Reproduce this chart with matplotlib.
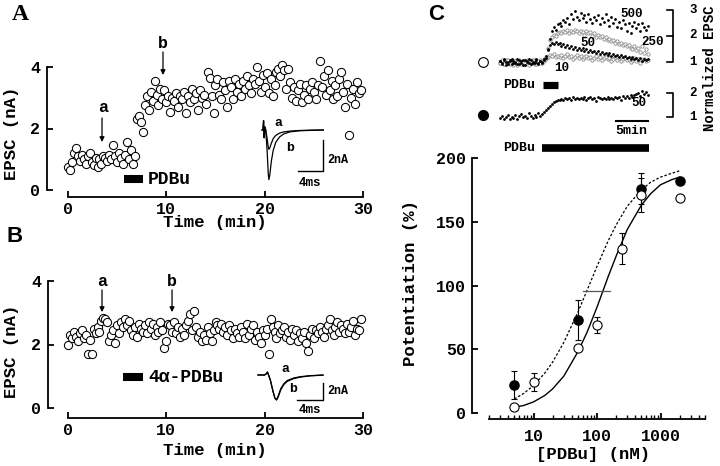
import numpy as np
import matplotlib.pyplot as plt
from matplotlib.lines import Line2D
from matplotlib.transforms import Affine2D
from matplotlib.ticker import FixedLocator, NullFormatter

plt.rcParams['font.family'] = ['Liberation Mono', 'DejaVu Sans Mono', 'DejaVu Sans']
plt.rcParams['font.weight'] = 'bold'

# ---- panel A: EPSC amplitude (nA), one point every 0.2 min ----
epsc_a = [0.75, 0.65, 0.90, 1.20, 1.35, 1.10, 0.95, 1.15, 1.00, 0.85,
          1.10, 1.20, 0.90, 0.80, 1.05, 0.75, 1.00, 0.85, 1.10, 1.05,
          0.95, 1.15, 1.00, 1.45, 1.10, 0.90, 1.20, 1.05, 0.85, 1.15,
          1.55, 1.00, 1.30, 0.85, 1.10, 2.30, 2.40, 2.20, 1.90, 2.75,
          3.05, 2.60, 3.20, 2.90, 3.55, 3.10, 2.75, 3.30, 2.95, 3.25,
          2.85, 3.05, 2.55, 3.00, 2.90, 3.15, 2.70, 3.05, 2.95, 3.20,
          2.50, 3.05, 2.85, 3.30, 2.95, 3.15, 2.60, 3.25, 3.00, 3.10,
          2.80, 3.85, 3.65, 3.05, 2.50, 3.40, 3.60, 3.10, 2.95, 3.50,
          3.25, 2.70, 3.55, 3.35, 2.95, 3.60, 3.20, 3.45, 3.05, 3.55,
          3.30, 3.70, 3.40, 3.15, 3.60, 3.45, 4.00, 3.55, 3.20, 3.75,
          3.35, 3.80, 3.15, 3.60, 3.05, 3.40, 3.85, 3.95, 3.70, 4.05,
          3.90, 3.30, 3.95, 3.50, 3.00, 3.35, 2.90, 3.25, 3.45, 2.85,
          3.10, 3.40, 2.95, 3.30, 3.50, 3.20, 2.95, 3.40, 4.20, 3.35,
          3.70, 3.10, 3.90, 3.25, 3.55, 2.95, 3.40, 3.05, 3.60, 3.85,
          3.20, 2.70, 3.45, 1.80, 3.00, 3.30, 2.80, 3.50, 3.15, 3.25]

# ---- panel B ----
epsc_b = [2.00, 2.30, 2.20, 2.40, 2.25, 2.10, 2.35, 2.45, 2.20, 2.30,
          1.70, 2.15, 1.70, 2.50, 2.35, 2.55, 2.40, 2.75, 2.85, 2.80,
          2.70, 2.10, 2.30, 2.45, 2.05, 2.60, 2.35, 2.70, 2.55, 2.80,
          2.60, 2.75, 2.45, 2.30, 2.55, 2.25, 2.65, 2.50, 2.40, 2.60,
          2.35, 2.70, 2.50, 2.65, 2.30, 2.55, 2.40, 2.70, 2.45, 1.90,
          2.10, 2.65, 2.60, 2.40, 2.70, 2.35, 2.55, 2.25, 2.50, 2.30,
          2.60, 2.75, 2.95, 2.45, 3.05, 2.55, 2.25, 2.40, 2.10, 2.30,
          2.15, 2.55, 2.35, 2.10, 2.45, 2.70, 2.60, 2.50, 2.65, 2.40,
          2.55, 2.30, 2.60, 2.45, 2.20, 2.50, 2.35, 2.25, 2.55, 2.40,
          2.20, 2.65, 2.30, 2.50, 2.60, 2.15, 2.40, 2.25, 2.05, 2.45,
          2.30, 2.50, 1.70, 2.80, 2.55, 2.40, 2.20, 2.60, 2.35, 2.45,
          2.55, 2.25, 2.40, 2.15, 2.50, 2.30, 2.45, 2.10, 2.35, 2.20,
          2.40, 2.05, 1.80, 2.30, 2.50, 2.20, 2.45, 2.35, 2.55, 2.40,
          2.25, 2.50, 2.60, 2.80, 2.45, 2.30, 2.55, 2.70, 2.40, 2.60,
          2.50, 2.35, 2.65, 2.40, 2.55, 2.75, 2.30, 2.50, 2.45, 2.80]

t_ab = np.arange(len(epsc_a)) * 0.2

# sample EPSC traces (ms, nA)
trace_t_a = [0, 0.15, 0.25, 0.35, 0.45, 0.6, 0.8, 1.0, 1.1, 1.25, 1.5, 1.8, 2.2, 2.8, 3.5, 4.5, 6.0, 8.0, 9.8]
trace_a_a = [0, 0, 0.6, -0.5, 0.2, 0, -0.5, -1.1, -1.25, -1.15, -0.85, -0.55, -0.35, -0.2, -0.12, -0.07, -0.03, -0.01, 0]
trace_a_b = [0, 0, 0.6, -0.5, 0.2, 0, -1.2, -2.8, -3.2, -2.9, -2.0, -1.3, -0.8, -0.45, -0.25, -0.12, -0.05, -0.02, 0]
trace_t_b = [0, 1.0, 1.3, 1.45, 1.6, 1.9, 2.3, 2.6, 2.85, 3.1, 3.5, 4.0, 4.5, 5.5, 6.5, 8.0, 10.0]
trace_b_a = [0, 0, 0.15, 0.35, 0.05, -0.6, -1.9, -2.7, -2.9, -2.5, -1.6, -1.0, -0.65, -0.35, -0.2, -0.08, 0]
trace_b_b = [0, 0, 0.15, 0.35, 0.05, -0.6, -1.9, -2.75, -2.95, -2.6, -1.75, -1.1, -0.75, -0.42, -0.25, -0.1, -0.02]

# ---- panel C insets: normalized EPSC, one point every 0.3 min ----
norm_500 = [1.05, 0.95, 1.10, 0.90, 1.00, 1.08, 0.92, 1.02, 0.97, 1.12,
            0.94, 1.03, 0.88, 1.06, 0.99, 1.10, 0.93, 1.01, 0.96, 1.07,
            0.91, 1.04, 0.98, 1.09, 1.15, 1.45, 1.90, 2.20, 2.35, 2.25,
            2.45, 2.50, 2.40, 2.60, 2.55, 2.70, 2.45, 2.85, 2.65, 2.95,
            2.75, 2.60, 2.90, 2.70, 2.80, 2.55, 2.85, 2.65, 2.50, 2.75,
            2.60, 2.80, 2.45, 2.70, 2.55, 2.85, 2.60, 2.40, 2.75, 2.50,
            2.65, 2.35, 2.55, 2.30, 2.60, 2.45, 2.20, 2.50, 2.10, 2.40,
            2.55, 2.30, 2.45, 2.20, 2.50, 2.35, 2.25, 2.40]
norm_250 = [0.98, 1.06, 0.93, 1.02, 1.09, 0.95, 1.00, 0.90, 1.05, 0.97,
            1.08, 0.92, 1.01, 0.96, 1.04, 0.89, 1.03, 0.98, 1.07, 0.94,
            1.02, 0.97, 1.05, 1.10, 1.20, 1.55, 1.85, 1.95, 2.05, 2.00,
            2.10, 2.15, 2.10, 2.20, 2.15, 2.25, 2.10, 2.20, 2.15, 2.25,
            2.20, 2.10, 2.20, 2.15, 2.05, 2.20, 2.10, 2.15, 2.00, 2.10,
            1.95, 2.05, 1.95, 2.00, 1.90, 1.95, 1.85, 1.90, 1.80, 1.85,
            1.75, 1.80, 1.70, 1.75, 1.65, 1.70, 1.60, 1.65, 1.55, 1.50,
            1.60, 1.45, 1.55, 1.40, 1.60, 1.35, 1.50, 1.30]
norm_50 = [1.02, 0.94, 1.08, 0.99, 0.91, 1.05, 1.11, 0.96, 1.00, 0.93,
           1.06, 0.98, 1.09, 0.90, 1.03, 0.97, 1.07, 0.95, 1.01, 1.10,
           0.96, 1.04, 1.00, 1.12, 1.25, 1.50, 1.65, 1.75, 1.70, 1.78,
           1.68, 1.72, 1.62, 1.70, 1.58, 1.65, 1.55, 1.60, 1.50, 1.58,
           1.48, 1.55, 1.45, 1.52, 1.42, 1.50, 1.40, 1.46, 1.38, 1.44,
           1.35, 1.42, 1.32, 1.38, 1.30, 1.36, 1.28, 1.33, 1.25, 1.30,
           1.22, 1.28, 1.20, 1.26, 1.18, 1.23, 1.15, 1.21, 1.12, 1.18,
           1.10, 1.16, 1.08, 1.14, 1.05, 1.12, 1.06, 1.10]
norm_10 = [0.96, 1.04, 0.91, 1.07, 1.00, 0.94, 1.09, 0.98, 1.03, 0.90,
           1.05, 0.97, 1.02, 0.93, 1.08, 1.00, 0.95, 1.06, 0.92, 1.04,
           0.99, 1.07, 0.95, 1.05, 1.12, 1.20, 1.28, 1.22, 1.30, 1.18,
           1.25, 1.20, 1.27, 1.15, 1.22, 1.30, 1.18, 1.24, 1.12, 1.20,
           1.26, 1.16, 1.22, 1.10, 1.18, 1.25, 1.14, 1.20, 1.08, 1.17,
           1.23, 1.12, 1.18, 1.06, 1.15, 1.21, 1.10, 1.16, 1.04, 1.13,
           1.19, 1.08, 1.14, 1.02, 1.11, 1.17, 1.06, 1.12, 1.00, 1.09,
           1.15, 1.05, 1.10, 0.98, 1.08, 1.13, 1.03, 1.07]
norm_50_long = [0.95, 1.05, 0.90, 1.00, 1.08, 0.93, 1.02, 0.97, 1.10, 0.92,
                1.04, 1.12, 0.98, 1.06, 0.94, 1.15, 1.03, 0.96, 1.10, 1.00,
                1.18, 1.05, 1.12, 1.22, 1.30, 1.38, 1.45, 1.55, 1.62, 1.68,
                1.72, 1.70, 1.76, 1.72, 1.80, 1.74, 1.78, 1.70, 1.82, 1.75,
                1.79, 1.73, 1.80, 1.76, 1.84, 1.72, 1.78, 1.82, 1.75, 1.80,
                1.68, 1.83, 1.78, 1.74, 1.81, 1.77, 1.85, 1.73, 1.80, 1.76,
                1.84, 1.79, 1.82, 1.70, 1.86, 1.80, 1.88, 1.78, 1.92, 1.84,
                1.90, 1.95, 2.00, 1.88, 2.10, 1.95, 2.05, 1.92]
t_c = np.arange(len(norm_500)) * 0.3

# ---- panel C dose-response ----
conc_open = [5, 10, 50, 100, 250, 500, 2000]
pot_open = [5, 24, 51, 69, 129, 171, 169]
err_open = [0, 7, 0, 6, 12, 13, 0]
conc_fill = [5, 50, 500, 2000]
pot_fill = [22, 73, 176, 182]
err_fill = [11, 16, 12, 0]
fit_c = [5, 7, 10, 15, 20, 30, 50, 70, 100, 150, 200, 300, 500, 700, 1000, 1500, 2000]
fit_open = [4.5, 5.9, 8.7, 13.7, 18.9, 28.9, 48, 63.5, 83, 107, 123, 144, 163, 172, 179, 183, 185]
fit_fill = [11, 15.3, 21.5, 31.2, 39.9, 55.3, 79, 96.4, 115, 135, 147.4, 162.2, 175, 181, 185, 188, 190]
ec50, ec50_lo, ec50_hi, ec50_y = 98, 60, 160, 96

W, H = 720, 466
fig = plt.figure(figsize=(7.2, 4.66), dpi=100)
pxT = Affine2D().scale(1 / W, -1 / H).translate(0, 1) + fig.transFigure


def box(x0, y0, x1, y1):
    return fig.add_axes([x0 / W, 1 - y1 / H, (x1 - x0) / W, (y1 - y0) / H])


def lims(pa, va, pb, vb, p0, p1):
    k = (vb - va) / (pb - pa)
    return va + (p0 - pa) * k, va + (p1 - pa) * k


def label(x, y, s, size=12, ha='center', va='center', **kw):
    fig.text(x, y, s, transform=pxT, fontsize=size, ha=ha, va=va, **kw)


def style(ax, xb, yb, xpad=3.6, ypad=5):
    for s in ['top', 'right']:
        ax.spines[s].set_visible(False)
    for s in ['left', 'bottom']:
        ax.spines[s].set_linewidth(1.3)
    ax.spines['left'].set_bounds(*yb)
    ax.spines['bottom'].set_bounds(*xb)
    ax.tick_params(direction='in', length=4, width=1.3, labelsize=12)
    ax.tick_params(axis='x', pad=xpad)
    ax.tick_params(axis='y', pad=ypad)
    ax.patch.set_alpha(0)


circ = dict(ls='none', marker='o', ms=5.9, mfc='white', mec='k', mew=0.75)
arrow = dict(arrowstyle='-|>', lw=0.9, color='k', mutation_scale=7, shrinkA=0, shrinkB=0)

# ---------------- A ----------------
axA = box(47, 30, 375, 197)
axA.set_xlim(*lims(68, 0, 363, 30, 47, 375))
axA.set_ylim(*lims(190, 0, 67, 4, 197, 30))
axA.plot(t_ab, epsc_a, **circ)
style(axA, (0, 30), (0, 4))
axA.set_xticks([0, 10, 20, 30])
axA.set_yticks([0, 2, 4])
axA.annotate('', xy=(3.46, 1.56), xytext=(3.46, 2.34), arrowprops=arrow)
axA.annotate('', xy=(9.66, 3.74), xytext=(9.66, 4.49), arrowprops=arrow)
axA.plot([5.7, 7.6], [0.36, 0.36], color='k', lw=5.8, solid_capstyle='butt')
label(103, 107, 'a')
label(163, 43, 'b')
label(148, 179, 'PDBu', 13, ha='left')
label(12, 133, 'EPSC (nA)', 12.5, rotation=90)
label(215, 223, 'Time (min)', 12.5)

insA = box(255, 112, 335, 192)
insA.set_xlim(*lims(262, 0, 268.25, 1, 255, 335))
insA.set_ylim(*lims(130, 0, 145.5, -1, 192, 112))
insA.axis('off')
insA.plot(trace_t_a, trace_a_a, color='k', lw=0.9)
insA.plot(trace_t_a, trace_a_b, color='k', lw=0.9)
insA.plot([5.76, 9.76, 9.76], [-2.645, -2.645, -0.645], color='k', lw=1)
label(278, 123, 'a', 9.5)
label(290, 148, 'b', 9.5)
label(327, 160, '2nA', 8.5, ha='left')
label(310, 183, '4ms', 9)

# ---------------- B ----------------
axB = box(48, 255, 375, 418)
axB.set_xlim(*lims(68, 0, 363, 30, 48, 375))
axB.set_ylim(*lims(408, 0, 281, 4, 418, 255))
axB.plot(t_ab, epsc_b, **circ)
style(axB, (0, 30), (0, 4))
axB.set_xticks([0, 10, 20, 30])
axB.set_yticks([0, 2, 4])
axB.annotate('', xy=(3.46, 3.02), xytext=(3.46, 3.72), arrowprops=arrow)
axB.annotate('', xy=(10.58, 3.02), xytext=(10.58, 3.72), arrowprops=arrow)
axB.plot([5.6, 7.6], [0.98, 0.98], color='k', lw=5.8, solid_capstyle='butt')
label(102, 281, 'a')
label(172, 281, 'b')
label(148, 377, '4\u03b1-PDBu', 13, ha='left')
label(12, 351, 'EPSC (nA)', 12.5, rotation=90)
label(215, 450, 'Time (min)', 12.5)

insB = box(250, 358, 335, 415)
insB.set_xlim(*lims(258, 0, 264.5, 1, 250, 335))
insB.set_ylim(*lims(375, 0, 383.5, -1, 415, 358))
insB.axis('off')
insB.plot(trace_t_b, trace_b_a, color='k', lw=0.9)
insB.plot(trace_t_b, trace_b_b, color='k', lw=0.9)
insB.plot([6.0, 10.0, 10.0], [-2.94, -2.94, -0.94], color='k', lw=1)
label(285, 369, 'a', 9.5)
label(293, 389, 'b', 9.5)
label(327, 391, '2nA', 8.5, ha='left')
label(310, 410, '4ms', 9)

# ---------------- C main ----------------
axC = box(472, 150, 712, 419)
axC.set_xscale('log')
axC.set_xlim(10 ** (2 + (472 - 597) / 63.5), 10 ** (2 + (712 - 597) / 63.5))
axC.set_ylim(*lims(413, 0, 158, 200, 419, 150))
axC.plot(fit_c, fit_open, color='k', lw=1)
axC.plot(fit_c, fit_fill, color='k', lw=0.9, ls=(0, (2, 1.5)))
axC.plot([ec50_lo, ec50_hi], [ec50_y, ec50_y], color='#555555', lw=0.9)
axC.errorbar(conc_open, pot_open, yerr=err_open, fmt='none', ecolor='k',
             elinewidth=0.8, capsize=2.2, capthick=0.8)
axC.errorbar(conc_fill, pot_fill, yerr=err_fill, fmt='none', ecolor='k',
             elinewidth=0.8, capsize=2.2, capthick=0.8)
axC.plot(conc_fill, pot_fill, ls='none', marker='o', ms=6.6, color='k', zorder=3)
axC.plot(conc_open, pot_open, ls='none', marker='o', ms=6.6, mfc='white', mec='k',
         mew=0.8, zorder=4)
style(axC, (2, 5000), (0, 200), xpad=7, ypad=4.5)
axC.xaxis.set_major_locator(FixedLocator([10, 100, 1000]))
axC.xaxis.set_minor_locator(FixedLocator([m * d for d in (1, 10, 100, 1000)
                                          for m in range(2, 10) if m * d <= 5000]))
axC.xaxis.set_minor_formatter(NullFormatter())
axC.set_xticklabels(['10', '100', '1000'])
axC.tick_params(axis='x', which='minor', direction='in', length=3, width=1)
axC.set_yticks([0, 50, 100, 150, 200])
label(410, 283, 'Potentiation (%)', 12.5, rotation=90)
label(593, 455, '[PDBu] (nM)', 12.5)

# ---------------- C insets ----------------
axT = box(476, 0, 705, 76)
axT.set_xlim(*lims(500, 0, 532, 5, 476, 705))
axT.set_ylim(*lims(62, 1, 10, 3, 76, 0))
axT.axis('off')
gray = dict(ls='none', marker='o', ms=2.4, mfc='white', mec='#8a8a8a', mew=0.6)
dot = dict(ls='none', marker='o', ms=2.0, mew=0, color='k')
axT.plot(t_c, norm_10, **gray)
axT.plot(t_c, norm_250, **gray)
axT.plot(t_c, norm_50, **dot)
axT.plot(t_c, norm_500, **dot)
axT.plot([26.1, 27.0, 27.0, 26.1], [3, 3, 1, 1], color='k', lw=1.2, clip_on=False)
axT.plot([26.1, 27.0], [2, 2], color='k', lw=1.2, clip_on=False)
axT.plot([6.7, 9.1], [0.115, 0.115], color='k', lw=5.2, solid_capstyle='butt', clip_on=False)

axL = box(476, 78, 705, 155)
axL.set_xlim(*lims(500, 0, 532, 5, 476, 705))
axL.set_ylim(*lims(117, 1, 93, 2, 155, 78))
axL.axis('off')
axL.plot(t_c, norm_50_long, **dot)
axL.plot([26.1, 27.0, 27.0, 26.1], [2, 2, 1, 1], color='k', lw=1.2, clip_on=False)
axL.plot([18.1, 23.1], [0.83, 0.83], color='k', lw=1.5)
axL.plot([6.6, 23.3], [-0.29, -0.29], color='k', lw=5.5, solid_capstyle='butt', clip_on=False)

fig.add_artist(Line2D([483], [62], transform=pxT, marker='o', ms=7, mfc='white',
                      mec='k', mew=0.8, ls='none'))
fig.add_artist(Line2D([483], [115], transform=pxT, marker='o', ms=7, color='k', ls='none'))
label(632, 14, '500', 9)
label(653, 42, '250', 9)
label(588, 43, '50', 9)
label(562, 68, '10', 9)
label(639, 103, '50', 9)
label(535, 85, 'PDBu', 9.5, ha='right')
label(535, 148, 'PDBu', 9.5, ha='right')
label(631, 131, '5min', 9.5)
for yy, s in [(10, '3'), (35, '2'), (62, '1'), (93, '2'), (117, '1')]:
    label(693, yy, s, 9)
label(710, 68, 'Normalized EPSC', 10, rotation=90)

# panel letters
label(20, 15, 'A', 17, family='Liberation Serif')
label(15, 237, 'B', 16, family='Liberation Sans')
label(436, 15, 'C', 16, family='Liberation Sans')

fig.savefig('out.png', dpi=100)
